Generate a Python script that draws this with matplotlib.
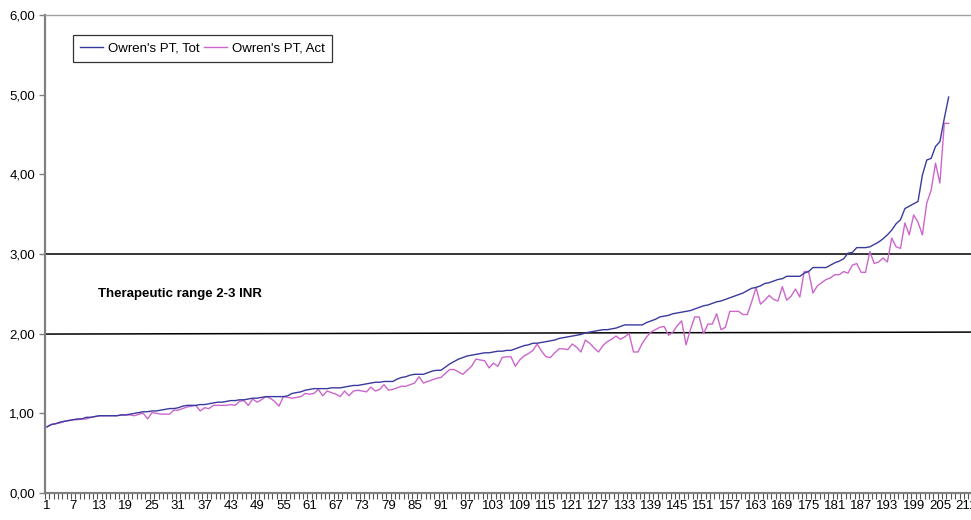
import matplotlib
matplotlib.use("Agg")
import matplotlib.pyplot as plt
from matplotlib.ticker import FuncFormatter, FixedLocator
import matplotlib.transforms as mtransforms

plt.rcParams['font.family'] = ['Liberation Sans', 'DejaVu Sans']

tot = [0.83, 0.86, 0.87, 0.89, 0.90, 0.91, 0.92, 0.93, 0.93, 0.95,
       0.95, 0.96, 0.97, 0.97, 0.97, 0.97, 0.97, 0.98, 0.98, 0.99,
       1.00, 1.01, 1.02, 1.02, 1.03, 1.03, 1.04, 1.05, 1.06, 1.06,
       1.07, 1.09, 1.10, 1.10, 1.10, 1.11, 1.11, 1.12, 1.13, 1.14,
       1.14, 1.15, 1.16, 1.16, 1.17, 1.17, 1.18, 1.19, 1.19, 1.20,
       1.21, 1.21, 1.21, 1.21, 1.21, 1.22, 1.25, 1.26, 1.27, 1.29,
       1.30, 1.31, 1.31, 1.31, 1.31, 1.32, 1.32, 1.32, 1.33, 1.34,
       1.35, 1.35, 1.36, 1.37, 1.38, 1.39, 1.39, 1.40, 1.40, 1.40,
       1.43, 1.45, 1.46, 1.48, 1.49, 1.49, 1.49, 1.51, 1.53, 1.54,
       1.54, 1.58, 1.62, 1.65, 1.68, 1.70, 1.72, 1.73, 1.74, 1.75,
       1.76, 1.76, 1.77, 1.78, 1.78, 1.79, 1.79, 1.81, 1.83, 1.85,
       1.86, 1.88, 1.88, 1.89, 1.90, 1.91, 1.92, 1.94, 1.95, 1.96,
       1.97, 1.98, 1.99, 2.01, 2.02, 2.03, 2.04, 2.05, 2.05, 2.06,
       2.07, 2.09, 2.11, 2.11, 2.11, 2.11, 2.11, 2.14, 2.16, 2.18,
       2.21, 2.22, 2.23, 2.25, 2.26, 2.27, 2.28, 2.29, 2.31, 2.33,
       2.35, 2.36, 2.38, 2.40, 2.41, 2.43, 2.45, 2.47, 2.49, 2.51,
       2.54, 2.57, 2.58, 2.60, 2.63, 2.64, 2.66, 2.68, 2.69, 2.72,
       2.72, 2.72, 2.72, 2.76, 2.78, 2.83, 2.83, 2.83, 2.83, 2.86,
       2.89, 2.91, 2.94, 3.01, 3.02, 3.08, 3.08, 3.08, 3.09, 3.12,
       3.15, 3.19, 3.24, 3.30, 3.38, 3.43, 3.57, 3.60, 3.63, 3.66,
       3.99, 4.18, 4.20, 4.35, 4.41, 4.70, 4.97]

act = [0.83, 0.86, 0.87, 0.88, 0.90, 0.91, 0.92, 0.92, 0.93, 0.93,
       0.95, 0.96, 0.97, 0.97, 0.97, 0.97, 0.97, 0.98, 0.98, 0.98,
       0.97, 0.99, 1.00, 0.93, 1.01, 1.00, 0.99, 0.99, 0.99, 1.04,
       1.04, 1.06, 1.08, 1.09, 1.10, 1.03, 1.07, 1.06, 1.10, 1.10,
       1.10, 1.10, 1.11, 1.10, 1.15, 1.16, 1.10, 1.18, 1.14, 1.17,
       1.21, 1.19, 1.15, 1.09, 1.21, 1.20, 1.19, 1.20, 1.21, 1.25,
       1.24, 1.25, 1.30, 1.22, 1.28, 1.26, 1.24, 1.21, 1.28, 1.22,
       1.28, 1.29, 1.28, 1.27, 1.33, 1.28, 1.30, 1.36, 1.29, 1.30,
       1.32, 1.34, 1.34, 1.36, 1.38, 1.46, 1.38, 1.40, 1.42, 1.44,
       1.45, 1.50, 1.55, 1.55, 1.52, 1.49, 1.54, 1.59, 1.68, 1.67,
       1.66, 1.57, 1.63, 1.59, 1.70, 1.71, 1.71, 1.59, 1.67, 1.72,
       1.75, 1.79, 1.87, 1.78, 1.71, 1.70, 1.76, 1.81, 1.81, 1.80,
       1.87, 1.83, 1.77, 1.92, 1.88, 1.82, 1.77, 1.85, 1.90, 1.93,
       1.97, 1.93, 1.96, 2.00, 1.77, 1.77, 1.88, 1.96, 2.02, 2.05,
       2.08, 2.09, 1.98, 2.02, 2.10, 2.16, 1.86, 2.05, 2.21, 2.21,
       2.00, 2.12, 2.12, 2.25, 2.05, 2.08, 2.28, 2.28, 2.28, 2.24,
       2.24, 2.40, 2.58, 2.37, 2.42, 2.48, 2.43, 2.41, 2.59, 2.42,
       2.47, 2.56, 2.46, 2.78, 2.78, 2.51, 2.60, 2.64, 2.68, 2.70,
       2.74, 2.74, 2.78, 2.76, 2.86, 2.88, 2.77, 2.77, 3.03, 2.88,
       2.90, 2.95, 2.90, 3.20, 3.09, 3.07, 3.39, 3.24, 3.49, 3.40,
       3.24, 3.64, 3.80, 4.14, 3.89, 4.64, 4.64]

series_names = ["Owren's PT, Tot", "Owren's PT, Act"]
range_lines = [2.0, 3.0]
range_label = "Therapeutic range 2-3 INR"
n_categories = 214
label_step = 6

W, H = 971, 520
fig = plt.figure(figsize=(W / 100, H / 100), dpi=100)
fig.patch.set_facecolor('white')

px_per_cat = 4.377
left_px = 44.8
ax = fig.add_axes([left_px / W, (H - 493) / H, n_categories * px_per_cat / W, (493 - 15) / H])

x = list(range(1, len(tot) + 1))
ax.plot(x, tot, color='#3a3a9e', lw=1.0, label=series_names[0], zorder=4)
ax.plot(x, act, color='#cc66cc', lw=1.0, label=series_names[1], zorder=3)

trans = mtransforms.blended_transform_factory(ax.transAxes, ax.transData)
ax.plot([0, 1], [range_lines[0] - 0.005, range_lines[0] + 0.02], color='black', lw=1.1, transform=trans, zorder=2)
ax.plot([0, 1], [range_lines[1], range_lines[1]], color='black', lw=1.1, transform=trans, zorder=2)

ax.set_xlim(0.5, n_categories + 0.5)
ax.set_ylim(0, 6)

ax.set_yticks([0, 1, 2, 3, 4, 5, 6])
ax.yaxis.set_major_formatter(FuncFormatter(lambda v, p: f"{v:.2f}".replace('.', ',')))
ax.tick_params(axis='y', direction='out', length=4, width=1, color='#808080', labelsize=9.5, pad=3)

label_pos = list(range(1, n_categories + 1, label_step))
ax.xaxis.set_major_locator(FixedLocator(label_pos))
ax.set_xticklabels([str(v) for v in label_pos],
                   family=['Liberation Sans Narrow', 'Liberation Sans', 'DejaVu Sans'], fontsize=9.5)
ax.xaxis.set_minor_locator(FixedLocator([i + 0.5 for i in range(0, n_categories + 1)]))
ax.tick_params(axis='x', which='major', length=0, pad=5)
ax.tick_params(axis='x', which='minor', direction='out', length=4, width=0.8, color='#555555')

for s in ['left', 'bottom']:
    ax.spines[s].set_color('#808080')
    ax.spines[s].set_linewidth(1.6)
ax.spines['top'].set_color('#a0a0a0')
ax.spines['top'].set_linewidth(1.0)
ax.spines['right'].set_visible(False)

ax.text((98 - left_px) / (n_categories * px_per_cat), 2.5, range_label, transform=trans,
        fontsize=9.5, fontweight='bold', va='center', ha='left')

leg = ax.legend(loc='upper left', bbox_to_anchor=(73 / W, 1 - 35 / H), bbox_transform=fig.transFigure,
                ncol=2, frameon=True, fancybox=False, edgecolor='black', fontsize=9.5,
                handlelength=1.7, handletextpad=0.4, columnspacing=0.35, borderpad=0.55,
                borderaxespad=0)
leg.get_frame().set_linewidth(0.9)

fig.savefig('out.png', dpi=100)
